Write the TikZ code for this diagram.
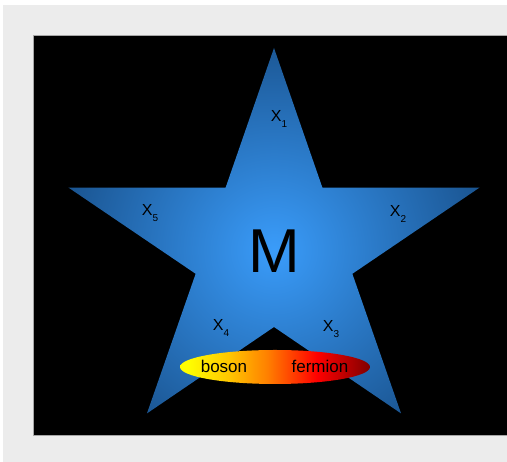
\documentclass[tikz,border=0pt]{standalone}
\usepackage{fontspec}
\setmainfont{Liberation Sans}
\usepackage{xcolor}
\usetikzlibrary{calc}
\definecolor{pagegray}{HTML}{ECECEC}
\definecolor{starlight}{HTML}{3A9CFA}
\definecolor{stardark}{HTML}{1A5490}
\pgfdeclarehorizontalshading{bosonfermion}{100bp}{color(0bp)=(yellow); color(27bp)=(yellow); color(38bp)=(yellow!55!orange); color(48bp)=(orange); color(61bp)=(red); color(75bp)=(red!50!black); color(100bp)=(red!50!black)}
\newcommand{\xlabel}[1]{X\raisebox{-0.35em}{\fontsize{10}{10}\selectfont #1}}

\begin{document}
\begin{tikzpicture}[
  x=1pt,y=1pt,
  every node/.style={font=\fontsize{16}{16}\selectfont,text=black,inner sep=0pt},
  xlbl/.style={},
  partlbl/.style={font=\fontsize{17}{17}\selectfont}
]
  \useasboundingbox (0,0) rectangle (507,462);
  \fill[white] (0,0) rectangle (507,462);
  \fill[pagegray] (3,0) rectangle (507,457);
  \draw[fill=black,draw=gray!70,line width=0.8pt] (33,27) rectangle (508,427);
  % star
  \coordinate (c) at (274,212);
  \begin{scope}
    \clip[shift={(c)},xscale=1.07]
      (90:202) -- (126:77) -- (162:202) -- (198:77) -- (234:202) -- (270:77)
      -- (306:202) -- (342:77) -- (18:202) -- (54:77) -- cycle;
    \shade[inner color=starlight,outer color=stardark] (c) circle (215);
  \end{scope}
  \node (m) at (274,211) {\fontsize{62}{62}\selectfont M};
  \node[xlbl] (x1) at (279,343) {\xlabel{1}};
  \node[xlbl] (x2) at (398,248) {\xlabel{2}};
  \node[xlbl] (x3) at (331,133) {\xlabel{3}};
  \node[xlbl] (x4) at (221,134) {\xlabel{4}};
  \node[xlbl] (x5) at (150,249) {\xlabel{5}};
  % particle ellipse
  \shade[shading=bosonfermion] (275,95) ellipse (95 and 17);
  \node[partlbl] (boson) at (224,96) {boson};
  \node[partlbl] (fermion) at (320,96) {fermion};
\end{tikzpicture}
\end{document}
